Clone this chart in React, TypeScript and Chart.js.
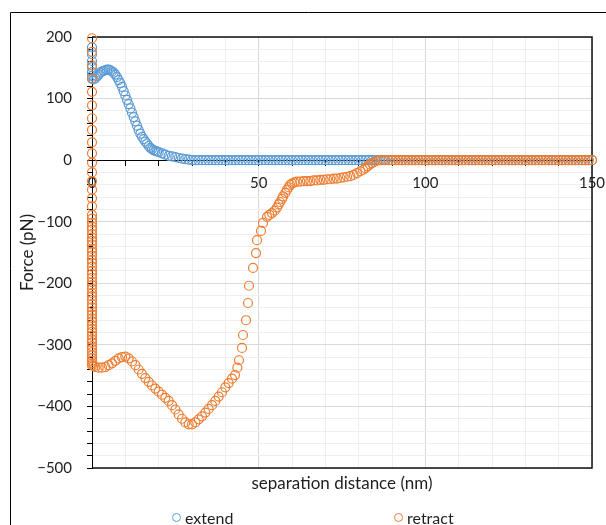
import React, { useEffect, useRef } from "react";
import { Chart, registerables } from "chart.js";

Chart.register(...registerables);

const seriesNames = ["extend", "retract"];
const seriesColors = ["#5b9bd5", "#ed7d31"];

const xTickValues = [0, 50, 100, 150];
const xTickLabels = ["0", "50", "100", "150"];
const yTickValues = [200, 100, 0, -100, -200, -300, -400, -500];
const yTickLabels = ["200", "100", "0", "\u2212100", "\u2212200", "\u2212300", "\u2212400", "\u2212500"];

// extend series
const extendHeadX = [0, 0, 0, 0, 0, 0, 0,
  0.5, 1, 1.5, 2, 2.5, 3, 3.5, 4, 4.5, 5, 5.5, 6, 6.5, 7, 7.5, 8, 8.5, 9, 9.5, 10,
  10.5, 11, 11.5, 12, 12.5, 13, 13.5, 14, 14.5, 15, 15.5, 16, 16.5, 17, 17.5, 18, 18.5, 19, 19.5, 20,
  21, 22, 23, 24, 25, 26, 27, 28, 29, 30];
const extendHeadY = [183, 172, 161, 151, 143, 137, 132,
  131, 133, 136, 139, 142, 144, 145, 146, 147, 147, 146, 144, 142, 139, 135, 130, 125, 119, 112, 105,
  98, 91, 84, 77, 70, 63, 56, 49, 43, 38, 34, 30, 27, 23, 20, 18, 16, 15, 14, 13,
  11, 9, 7, 6, 5, 3.5, 2.5, 1.5, 1, 0];
const extendTailX = [31, 32, 33, 34, 35, 36, 37, 38, 39, 40, 41, 42, 43, 44, 45, 46, 47, 48, 49, 50,
  51, 52, 53, 54, 55, 56, 57, 58, 59, 60, 61, 62, 63, 64, 65, 66, 67, 68, 69, 70,
  71, 72, 73, 74, 75, 76, 77, 78, 79, 80, 81, 82, 83, 84, 85, 86, 87, 88, 89, 90,
  91, 92, 93, 94, 95, 96, 97, 98, 99, 100, 101, 102, 103, 104, 105, 106, 107, 108, 109, 110,
  111, 112, 113, 114, 115, 116, 117, 118, 119, 120, 121, 122, 123, 124, 125, 126, 127, 128, 129, 130,
  131, 132, 133, 134, 135, 136, 137, 138, 139, 140, 141, 142, 143, 144, 145, 146, 147, 148, 149, 150];
const extendTailY = [0, 0, 0, 0, 0, 0, 0, 0, 0, 0, 0, 0, 0, 0, 0, 0, 0, 0, 0, 0,
  0, 0, 0, 0, 0, 0, 0, 0, 0, 0, 0, 0, 0, 0, 0, 0, 0, 0, 0, 0,
  0, 0, 0, 0, 0, 0, 0, 0, 0, 0, 0, 0, 0, 0, 0, 0, 0, 0, 0, 0,
  0, 0, 0, 0, 0, 0, 0, 0, 0, 0, 0, 0, 0, 0, 0, 0, 0, 0, 0, 0,
  0, 0, 0, 0, 0, 0, 0, 0, 0, 0, 0, 0, 0, 0, 0, 0, 0, 0, 0, 0,
  0, 0, 0, 0, 0, 0, 0, 0, 0, 0, 0, 0, 0, 0, 0, 0, 0, 0, 0, 0];

// retract series: contact column at x = 0
const retractContactX = [0, 0, 0, 0, 0, 0, 0, 0, 0, 0, 0, 0, 0, 0, 0, 0, 0, 0, 0, 0,
  0, 0, 0, 0, 0, 0, 0, 0, 0, 0, 0, 0, 0, 0, 0, 0, 0, 0, 0, 0,
  0, 0, 0, 0, 0, 0, 0, 0, 0, 0, 0, 0, 0, 0, 0, 0, 0, 0, 0, 0];
const retractContactY = [198, 176, 154, 133, 111, 89, 68, 49, 29, 11,
  -4, -20, -34, -48, -62, -75, -89, -95, -102, -108,
  -113, -120, -126, -131, -137, -144, -149, -155, -162, -167,
  -173, -180, -185, -191, -198, -203, -209, -216, -221, -227,
  -234, -239, -245, -251, -257, -262, -268, -274, -279, -285,
  -291, -296, -302, -307, -312, -317, -322, -326, -330, -333];
// retract series: adhesion curve
const retractCurveX = [0.5, 1, 2, 3, 4, 5, 6, 7, 8, 9, 10, 11, 12, 13, 14, 15, 16, 17, 18, 19, 20,
  21, 22, 23, 24, 25, 26, 27, 28, 29, 30, 31, 32, 33, 34, 35, 36, 37, 38, 39, 40, 41, 42,
  42.9, 43.6, 44.1, 45, 45.3, 46.2, 46.8, 47.1, 48.3, 49.2,
  49.5, 50.7, 51.3, 52.5, 53.2, 54, 54.8, 55.5, 56, 56.4,
  57, 57.3, 58, 58.5, 59, 59.4, 60, 60.7, 61.5,
  62.5, 63.5, 64.5, 65.5, 66.5, 67.5, 68.5, 69.5, 70.5, 71.5, 72.5, 73.5, 74.5, 75.5, 76.5, 77.5, 78.5, 79.5,
  80.5, 81.3, 82, 82.7, 83.4, 84, 84.7, 85.5, 86.5, 87.5];
const retractCurveY = [-334, -336, -337, -337, -336, -333, -330, -326, -322, -320, -319,
  -322, -327, -333, -340, -347, -354, -360, -366, -371, -376,
  -381, -386, -391, -398, -405, -413, -420, -426, -429, -429,
  -426, -421, -416, -410, -404, -398, -391, -384, -377, -369,
  -362, -355,
  -349, -337, -325, -305, -284, -260, -232, -204, -175, -151,
  -130, -115, -102, -92, -89, -86, -82, -77, -72, -68,
  -63, -59, -53, -48, -44, -40, -38, -36, -35,
  -35, -34, -34, -34, -33, -33, -32, -32, -31, -31, -30, -30, -29, -28, -27, -26, -24, -21,
  -18, -16, -13, -10, -7, -5, -3, -1, 0, 0];
const retractTailX = [89, 90, 91, 92, 93, 94, 95, 96, 97, 98, 99, 100, 101, 102, 103, 104, 105, 106, 107, 108,
  109, 110, 111, 112, 113, 114, 115, 116, 117, 118, 119, 120, 121, 122, 123, 124, 125, 126, 127, 128,
  129, 130, 131, 132, 133, 134, 135, 136, 137, 138, 139, 140, 141, 142, 143, 144, 145, 146, 147, 148,
  149, 150];
const retractTailY = [0, 0, 0, 0, 0, 0, 0, 0, 0, 0, 0, 0, 0, 0, 0, 0, 0, 0, 0, 0,
  0, 0, 0, 0, 0, 0, 0, 0, 0, 0, 0, 0, 0, 0, 0, 0, 0, 0, 0, 0,
  0, 0, 0, 0, 0, 0, 0, 0, 0, 0, 0, 0, 0, 0, 0, 0, 0, 0, 0, 0,
  0, 0];

const FONT = "Lato, 'Liberation Sans', 'DejaVu Sans', sans-serif";
const TEXT = "#1f1f1f";

function pts(xs: number[], ys: number[]) {
  return xs.map((x, i) => ({ x, y: ys[i] }));
}

export default function App() {
  const ref = useRef<HTMLCanvasElement | null>(null);

  useEffect(() => {
    const canvas = ref.current;
    if (!canvas) return;

    const framePlugin = {
      id: "framePlugin",
      beforeDraw(chart: any) {
        const ctx = chart.ctx;
        ctx.save();
        ctx.fillStyle = "#ffffff";
        ctx.fillRect(0, 0, chart.width, chart.height);
        ctx.strokeStyle = "#000000";
        ctx.lineWidth = 1;
        ctx.beginPath();
        ctx.moveTo(10.5, chart.height);
        ctx.lineTo(10.5, 12.5);
        ctx.lineTo(chart.width, 12.5);
        ctx.stroke();
        ctx.restore();
      },
      beforeDatasetsDraw(chart: any) {
        const { left, right, top, bottom } = chart.chartArea;
        const ctx = chart.ctx;
        ctx.save();
        ctx.strokeStyle = "#111111";
        ctx.lineWidth = 1.5;
        ctx.beginPath();
        ctx.moveTo(left, top);
        ctx.lineTo(right, top);
        ctx.lineTo(right, bottom);
        ctx.lineTo(left, bottom);
        ctx.stroke();
        ctx.restore();
      },
    };

    const noPad = (s: any) => {
      s.paddingLeft = 0;
      s.paddingRight = 0;
      s.paddingTop = 0;
      s.paddingBottom = 0;
    };

    const chart = new Chart(canvas, {
      type: "scatter",
      data: {
        datasets: [
          {
            label: seriesNames[0],
            data: pts([...extendHeadX, ...extendTailX], [...extendHeadY, ...extendTailY]),
            borderColor: seriesColors[0],
            backgroundColor: "rgba(0,0,0,0)",
            pointRadius: 4.5,
            pointBorderWidth: 1.2,
            borderWidth: 1.2,
            showLine: false,
            clip: false,
            order: 2,
            xAxisID: "x",
            yAxisID: "y",
          },
          {
            label: seriesNames[1],
            data: pts(
              [...retractContactX, ...retractCurveX, ...retractTailX],
              [...retractContactY, ...retractCurveY, ...retractTailY]
            ),
            borderColor: seriesColors[1],
            backgroundColor: "rgba(0,0,0,0)",
            pointRadius: 4.5,
            pointBorderWidth: 1.2,
            borderWidth: 1.2,
            showLine: false,
            clip: false,
            order: 1,
            xAxisID: "x",
            yAxisID: "y",
          },
        ],
      },
      options: {
        animation: false,
        responsive: false,
        events: [],
        layout: { padding: { left: 14, top: 37, right: 14, bottom: 27 } },
        plugins: {
          legend: { display: false },
          tooltip: { enabled: false },
        },
        scales: {
          x: {
            type: "linear",
            position: { y: 0 },
            min: 0,
            max: 150,
            ticks: {
              stepSize: 10,
              autoSkip: false,
              maxRotation: 0,
              padding: 9,
              color: TEXT,
              font: { family: FONT, size: 15 },
              callback: (v: any) => {
                const i = xTickValues.indexOf(Number(v));
                return i >= 0 ? xTickLabels[i] : "";
              },
            },
            grid: {
              color: (c: any) => (c.tick && c.tick.value % 50 === 0 ? "#d9d9d9" : "#efefef"),
              lineWidth: 1,
              tickColor: "#000000",
              tickLength: 5,
            },
            border: { display: true, color: "#000000", width: 1 },
            afterFit: noPad,
          },
          x2: {
            type: "linear",
            axis: "x",
            position: "bottom",
            min: 0,
            max: 150,
            ticks: { display: false },
            grid: { display: false, drawTicks: false },
            border: { display: false },
            title: {
              display: true,
              text: "separation distance (nm)",
              color: TEXT,
              font: { family: FONT, size: 17 },
              padding: { top: 0, bottom: 4 },
            },
            afterFit: (s: any) => {
              noPad(s);
              s.height = 30;
            },
          },
          y: {
            type: "linear",
            position: "left",
            min: -500,
            max: 200,
            ticks: {
              stepSize: 20,
              autoSkip: false,
              padding: 15,
              color: TEXT,
              font: { family: FONT, size: 15 },
              callback: (v: any) => {
                const i = yTickValues.indexOf(Number(v));
                return i >= 0 ? yTickLabels[i] : "";
              },
            },
            grid: {
              color: (c: any) => (c.tick && c.tick.value % 100 === 0 ? "#d9d9d9" : "#efefef"),
              lineWidth: 1,
              tickColor: "#000000",
              tickLength: 5,
            },
            border: { display: true, color: "#000000", width: 1 },
            title: {
              display: true,
              text: "Force (pN)",
              color: TEXT,
              font: { family: FONT, size: 17 },
              padding: { top: 3, bottom: 0 },
            },
            afterFit: (s: any) => {
              noPad(s);
              s.width = 78;
            },
          },
        },
      } as any,
      plugins: [framePlugin],
    });

    return () => chart.destroy();
  }, []);

  const legendItem = (i: number, left: number) => (
    <div
      key={i}
      style={{
        position: "absolute",
        left,
        top: 508,
        height: 18,
        display: "flex",
        alignItems: "center",
        font: `16px ${FONT}`,
        color: TEXT,
        whiteSpace: "nowrap",
      }}
    >
      <span
        style={{
          display: "inline-block",
          width: 7,
          height: 7,
          border: `1.3px solid ${seriesColors[i]}`,
          borderRadius: "50%",
          marginRight: 4,
        }}
      />
      {seriesNames[i]}
    </div>
  );

  return (
    <div
      style={{
        position: "fixed",
        left: 0,
        top: 0,
        width: 606,
        height: 525,
        overflow: "hidden",
        background: "#ffffff",
      }}
    >
      <canvas ref={ref} width={606} height={525} style={{ position: "absolute", left: 0, top: 0 }} />
      {legendItem(0, 172)}
      {legendItem(1, 394)}
    </div>
  );
}
